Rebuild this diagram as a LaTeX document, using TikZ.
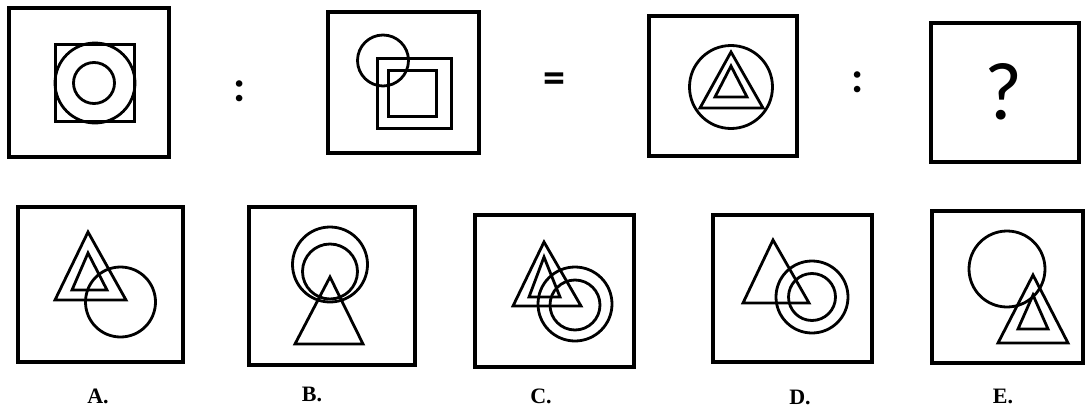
\documentclass[tikz,border=0pt]{standalone}
\usepackage{fontspec}
\setmainfont{Liberation Serif}
\newfontfamily\symfont{Carlito}
\begin{document}
\begin{tikzpicture}[x=1pt,y=-1pt,
  frame/.style={line width=3.6pt,line join=miter},
  shp/.style={line width=2.8pt,line join=miter},
  sq/.style={line width=3.2pt,line join=miter},
  sym/.style={font=\symfont\bfseries\fontsize{44}{44}\selectfont,inner sep=0pt},
  lbl/.style={font=\bfseries\fontsize{22}{22}\selectfont,inner sep=0pt}]
\useasboundingbox (0,0) rectangle (1087,415);
% ---- top row ----
% frame 1
\draw[frame] (9,8) rectangle (169,157);
\draw[sq] (55.5,44.5) rectangle (134.5,121.5);
\draw[shp] (95,83) circle (40);
\draw[shp] (94,83) circle (20.5);
\node[sym] (c1) at (240,91) {:};
% frame 2
\draw[frame] (328,12) rectangle (479,153);
\draw[sq] (377.5,58.5) rectangle (451.5,128.5);
\draw[sq] (388.5,70.5) rectangle (436.5,116.5);
\draw[shp] (383,60.5) circle (25.5);
\node[sym] (eq) at (554,83) {=};
% frame 3
\draw[frame] (649,16) rectangle (797,156);
\draw[shp] (731,87) circle (41.5);
\draw[shp] (731,52) -- (763,108) -- (700,108) -- cycle;
\draw[shp] (731,66) -- (747,97) -- (715,97) -- cycle;
\node[sym] (c2) at (858,82) {:};
% frame 4
\draw[frame] (931,23) rectangle (1079,162);
\node[font=\symfont\fontsize{82}{82}\selectfont,inner sep=0pt] (q) at (1003,92) {?};
% ---- bottom row ----
% A
\draw[frame] (18,207) rectangle (183,362);
\draw[shp] (88,232) -- (126,300) -- (55,300) -- cycle;
\draw[shp] (88,253) -- (107,290) -- (72,290) -- cycle;
\draw[shp] (120.5,302) circle (35);
\node[lbl] (la) at (98,396) {A.};
% B
\draw[frame] (249,207) rectangle (415,365);
\draw[shp] (330,264.5) circle (37.5);
\draw[shp] (330,271.5) circle (27.5);
\draw[shp] (330,277) -- (363,344) -- (295,344) -- cycle;
\node[lbl] (lb) at (312,394) {B.};
% C
\draw[frame] (475,215) rectangle (634,367);
\draw[shp] (544,242) -- (581,306) -- (513,306) -- cycle;
\draw[shp] (544,257) -- (560,297) -- (529,297) -- cycle;
\draw[shp] (575,304) circle (37);
\draw[shp] (575,305) circle (25);
\node[lbl] (lc) at (541,396) {C.};
% D
\draw[frame] (713,215) rectangle (872,362);
\draw[shp] (773,240) -- (809,303) -- (743,303) -- cycle;
\draw[shp] (812,297) circle (36);
\draw[shp] (812,297) circle (23.5);
\node[lbl] (ld) at (800,397) {D.};
% E
\draw[frame] (932,211) rectangle (1083,363);
\draw[shp] (1007,269) circle (38);
\draw[shp] (1033,275) -- (1068,343) -- (998,343) -- cycle;
\draw[shp] (1033,295) -- (1048,329) -- (1018,329) -- cycle;
\node[lbl] (le) at (1003,396) {E.};
\end{tikzpicture}
\end{document}
